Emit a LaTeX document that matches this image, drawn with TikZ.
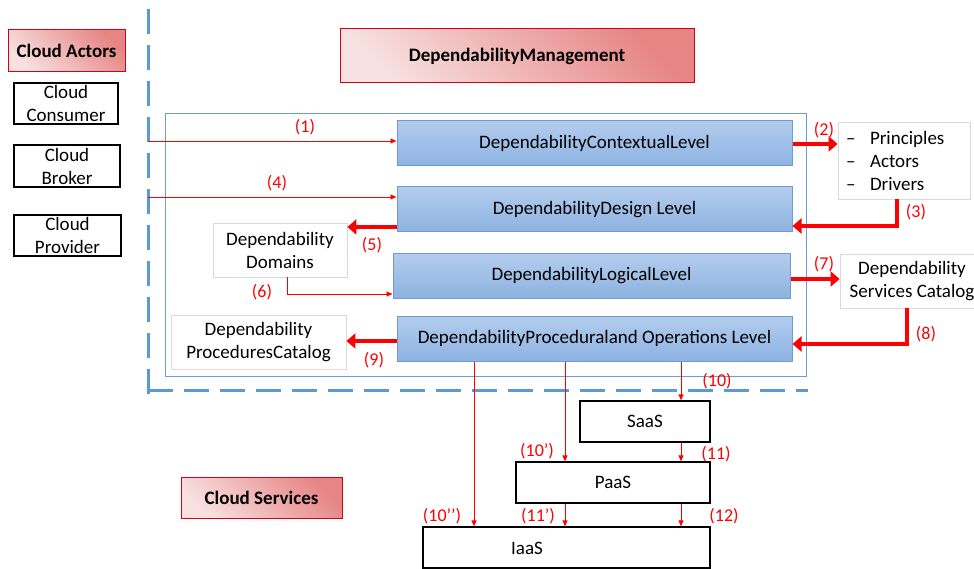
\documentclass[tikz,border=0pt]{standalone}
\usepackage{fontspec}
\setmainfont{Carlito}
\usetikzlibrary{arrows.meta}
\definecolor{dashblue}{HTML}{5B9BD5}
\definecolor{boxblueT}{HTML}{B3CCEC}
\definecolor{boxblueB}{HTML}{8DB3E2}
\definecolor{boxblueD}{HTML}{6C9BD6}
\definecolor{redD}{HTML}{E78585}
\definecolor{redL}{HTML}{F8E0E0}
\definecolor{redB}{HTML}{D0021B}
\definecolor{lgray}{HTML}{D9D9D9}
\definecolor{lbl}{HTML}{FF0000}
\tikzset{
  txt/.style={font=\fontsize{19}{23}\selectfont},
  actor/.style={txt, draw=black, line width=1.2pt, fill=white, inner sep=0pt, align=center},
  redbox/.style={txt, font=\fontsize{19}{23}\selectfont\bfseries, draw=redB, line width=1pt, top color=redD, bottom color=redL, shading angle=-45, inner sep=0pt},
  bluebox/.style={txt, draw=boxblueD, line width=1pt, top color=boxblueT, bottom color=boxblueB, inner sep=0pt},
  grayb/.style={txt, draw=lgray, line width=0.8pt, fill=white, inner sep=0pt, align=center},
  svc/.style={txt, draw=black, line width=1.2pt, fill=white, inner sep=0pt},
  lab/.style={txt, font=\fontsize{18}{22}\selectfont, text=lbl, inner sep=0pt},
  thin/.style={draw=lbl, line width=0.9pt, -{Triangle[length=6pt,width=5pt]}},
  thick/.style={draw=lbl, line width=4pt, -{Triangle[length=9pt,width=15pt]}},
  dashb/.style={draw=dashblue, line width=3pt, dash pattern=on 25pt off 11pt}
}
\begin{document}
\begin{tikzpicture}[x=1pt,y=-1pt]
\useasboundingbox (0,0) rectangle (974,569);
% dashed separators
\coordinate (dtop) at (148,9);
\coordinate (dcorner) at (148,395);
\coordinate (hleft) at (148,390);
\coordinate (hright) at (808,390);
\draw[dashb] (dtop) -- (dcorner);
\draw[dashb] (hleft) -- (hright);

% actors
\node[redbox, minimum width=117pt, minimum height=42pt] (actors) at (66.5,51) {Cloud Actors};
\node[actor, minimum width=104pt, minimum height=41pt] (consumer) at (66,103.5) {Cloud\\Consumer};
\node[actor, minimum width=106pt, minimum height=42pt] (broker) at (67,166) {Cloud\\Broker};
\node[actor, minimum width=107pt, minimum height=41pt] (provider) at (67.5,235.5) {Cloud\\Provider};

% management
\node[redbox, minimum width=354pt, minimum height=54pt] (mgmt) at (517,56) {DependabilityManagement};
\node[draw=boxblueD, line width=0.8pt, minimum width=641pt, minimum height=263pt, inner sep=0pt] (outer) at (485.5,244.5) {};

\node[bluebox, minimum width=395pt, minimum height=45pt] (ctx) at (594.5,143.5) {DependabilityContextualLevel};
\node[bluebox, minimum width=395pt, minimum height=45pt] (design) at (594.5,209.5) {DependabilityDesign Level};
\node[bluebox, minimum width=397pt, minimum height=44pt] (logical) at (591.5,276) {DependabilityLogicalLevel};
\node[bluebox, minimum width=395pt, minimum height=45pt] (proc) at (594.5,338.5) {DependabilityProceduraland Operations Level};

\node[grayb, minimum width=132pt, minimum height=77pt, text width=116pt, align=left] (princ) at (904,160.5)
  {\makebox[24pt][l]{–}Principles\\\makebox[24pt][l]{–}Actors\\\makebox[24pt][l]{–}Drivers};
\node[grayb, minimum width=144pt, minimum height=54pt] (services) at (912,281) {Dependability\\Services Catalog};
\node[grayb, minimum width=134pt, minimum height=54pt] (domains) at (280,250) {Dependability\\Domains};
\node[grayb, minimum width=175pt, minimum height=54pt] (proccat) at (258.5,342) {Dependability\\ProceduresCatalog};

% services
\node[redbox, minimum width=161pt, minimum height=41pt] (csvc) at (261.5,497.5) {Cloud Services};
\node[svc, minimum width=130pt, minimum height=41pt] (saas) at (645,421.5) {SaaS};
\node[svc, minimum width=194pt, minimum height=41pt] (paas) at (613,482.5) {PaaS};
\node[svc, minimum width=287pt, minimum height=41pt] (iaas) at (566.5,547.5) {};
\node[txt, inner sep=0pt] (iaastext) at (527,548) {IaaS};

% connectors
\coordinate (c1) at (148,141);
\coordinate (c4) at (148,197);
\draw[thin] (c1) -- (c1 -| ctx.west);
\draw[thin] (c4) -- (c4 -| design.west);
\draw[thick] ([yshift=-0.5pt]ctx.east) -- ([yshift=-0.5pt]ctx.east -| princ.west);
\draw[thick] ([xshift=-7pt]princ.south) |- ([yshift=-16.5pt]design.east);
\draw[thick] ([yshift=-17.5pt]design.west) -- ([yshift=-17.5pt]design.west -| domains.east);
\draw[thin] ([xshift=7pt]domains.south) |- ([yshift=-18pt]logical.west);
\draw[thick] ([yshift=-3pt]logical.east) -- ([yshift=-3pt]logical.east -| services.west);
\draw[thick] ([xshift=-5pt]services.south) |- ([yshift=-5.5pt]proc.east);
\draw[thick] ([yshift=-2.5pt]proc.west) -- ([yshift=-2.5pt]proc.west -| proccat.east);
\draw[thin] ([xshift=86.5pt]proc.south) -- ([xshift=86.5pt]proc.south |- saas.north);
\draw[thin] ([xshift=-29.5pt]proc.south) -- ([xshift=-29.5pt]proc.south |- paas.north);
\draw[thin] ([xshift=-120.5pt]proc.south) -- ([xshift=-120.5pt]proc.south |- iaas.north);
\draw[thin] ([xshift=36pt]saas.south) -- ([xshift=36pt]saas.south |- paas.north);
\draw[thin] ([xshift=-48pt]paas.south) -- ([xshift=-48pt]paas.south |- iaas.north);
\draw[thin] ([xshift=68pt]paas.south) -- ([xshift=68pt]paas.south |- iaas.north);

% labels
\node[lab] (l1) at (305,127) {(1)};
\node[lab] (l4) at (277,183) {(4)};
\node[lab] (l2) at (824,130) {(2)};
\node[lab] (l3) at (916,212) {(3)};
\node[lab] (l5) at (372,245) {(5)};
\node[lab] (l6) at (262,292) {(6)};
\node[lab] (l7) at (824,264) {(7)};
\node[lab] (l8) at (926,334) {(8)};
\node[lab] (l9) at (374,360) {(9)};
\node[lab] (l10) at (717,381) {(10)};
\node[lab] (l10a) at (537,451) {(10’)};
\node[lab] (l10b) at (442,516) {(10’’)};
\node[lab] (l11) at (716,454) {(11)};
\node[lab] (l11a) at (538,516) {(11’)};
\node[lab] (l12) at (724,516) {(12)};
\end{tikzpicture}
\end{document}
